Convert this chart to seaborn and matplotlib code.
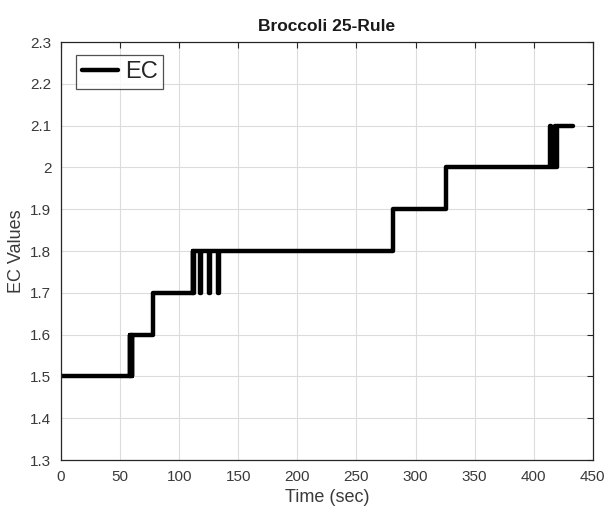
import numpy as np
import pandas as pd
import seaborn as sns
import matplotlib
matplotlib.use("Agg")
import matplotlib.pyplot as plt
from matplotlib.ticker import FormatStrFormatter

# time (sec) where EC setpoint changes, and the value held from that time on
times = [0, 58.0, 58.6, 59.2, 59.8, 60.3, 77.8,
         111.3, 112.0, 112.6, 117.5, 118.5, 125.5, 126.5, 132.5, 133.5,
         280.8, 326.2,
         413.6, 414.4, 418.0, 418.7, 419.3, 433.0]
ec = [1.5, 1.6, 1.5, 1.6, 1.5, 1.6, 1.7,
      1.8, 1.7, 1.8, 1.7, 1.8, 1.7, 1.8, 1.7, 1.8,
      1.9, 2.0,
      2.1, 2.0, 2.1, 2.0, 2.1, 2.1]

xticks = np.arange(0, 451, 50)
yticks = np.round(np.arange(1.3, 2.31, 0.1), 1)

df = pd.DataFrame({"Time (sec)": times, "EC": ec})

sns.set_style("whitegrid")
plt.rcParams['font.family'] = ['Liberation Sans', 'DejaVu Sans']
txt = '#262626'
lbl = '#3a3a3a'

fig = plt.figure(figsize=(6.08, 5.16), dpi=100)
ax = fig.add_axes([0.1003, 0.1085, 0.8747, 0.8101])

sns.lineplot(data=df, x="Time (sec)", y="EC", estimator=None, sort=False,
             drawstyle='steps-post', color='black', linewidth=3.2, label='EC', ax=ax)

ax.set_xlim(0, 450)
ax.set_ylim(1.3, 2.3)
ax.set_xticks(xticks)
ax.set_yticks(yticks)
ax.yaxis.set_major_formatter(FormatStrFormatter('%g'))
ax.grid(True, color='#dcdcdc', linewidth=0.8)
ax.tick_params(direction='in', length=4, width=0.8, top=True, right=True,
               labelsize=11, colors=txt, labelcolor=lbl, pad=7)
for s in ax.spines.values():
    s.set_color(txt)
    s.set_linewidth(0.9)
    s.set_visible(True)

ax.set_xlabel('Time (sec)', fontsize=13, color=lbl)
ax.set_ylabel('EC Values', fontsize=13, color=lbl)
ax.set_title('Broccoli 25-Rule', fontsize=12.5, fontweight='bold', color='#1a1a1a', pad=8)

leg = ax.legend(loc='upper left', bbox_to_anchor=(0.029, 0.969), fontsize=17,
                frameon=True, fancybox=False, edgecolor=txt, handlelength=1.5,
                borderpad=0.25, handletextpad=0.3, borderaxespad=0)
leg.get_frame().set_linewidth(0.9)
for t in leg.get_texts():
    t.set_color(txt)

fig.savefig('out.png', dpi=100)
